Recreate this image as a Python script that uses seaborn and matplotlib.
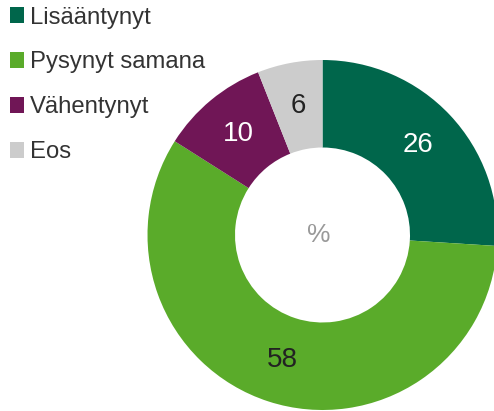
import matplotlib
matplotlib.use("Agg")
import matplotlib.pyplot as plt
import seaborn as sns

# data
labels = ["Lisääntynyt", "Pysynyt samana", "Vähentynyt", "Eos"]
values = [26, 58, 10, 6]
colors = ["#00664B", "#5AAB2A", "#701656", "#CCCCCC"]
label_colors = ["white", "#222222", "white", "#222222"]

sns.set_theme(style="white")
plt.rcParams["font.family"] = ["Liberation Sans", "DejaVu Sans"]

W, H = 494, 411
fig = plt.figure(figsize=(W / 100, H / 100), dpi=100)
ax = fig.add_axes([0, 0, 1, 1])

cx, cy, r = 322.5, H - 235, 175
wedges, _, autotexts = ax.pie(
    values, colors=colors, startangle=90, counterclock=False,
    center=(cx, cy), radius=r, frame=True,
    autopct=lambda p: f"{round(p):d}", pctdistance=0.75,
    wedgeprops=dict(width=r * 0.5, linewidth=0),
    textprops=dict(fontsize=20),
)
for t, c in zip(autotexts, label_colors):
    t.set_color(c)

ax.set_xlim(0, W)
ax.set_ylim(0, H)
ax.set_aspect("equal")
ax.axis("off")

ax.text(cx - 4, cy, "%", ha="center", va="center", fontsize=19, color="#999999")

leg = ax.legend(wedges, labels, loc="upper left", bbox_to_anchor=(0.0, 1.0 + 3 / H),
                bbox_transform=fig.transFigure, frameon=False, fontsize=17.2,
                handlelength=0.62, handleheight=0.62, handletextpad=0.25,
                labelspacing=0.96, borderaxespad=0.0, borderpad=0.4)
for t in leg.get_texts():
    t.set_color("#333333")

fig.savefig("out.png", dpi=100)
